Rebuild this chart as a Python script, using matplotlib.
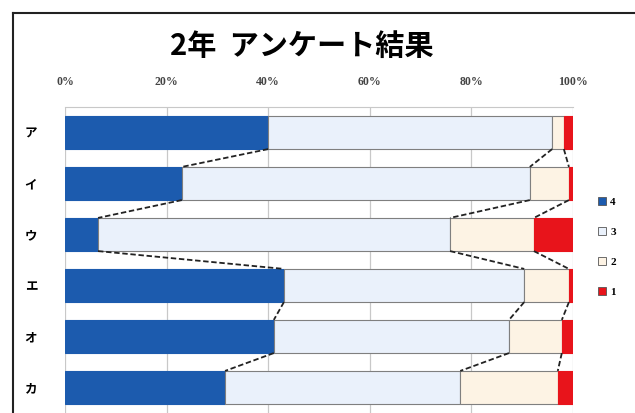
import matplotlib
matplotlib.use("Agg")
import matplotlib.pyplot as plt
import numpy as np
from matplotlib.lines import Line2D
from matplotlib.patches import Patch

plt.rcParams['font.family'] = ['Noto Sans CJK JP', 'DejaVu Sans']

categories = ['ア', 'イ', 'ウ', 'エ', 'オ', 'カ']
series_names = ['4', '3', '2', '1']
s4 = [40.0, 23.0, 6.5, 43.1, 41.1, 31.5]
s3 = [55.9, 68.5, 69.3, 47.3, 46.3, 46.3]
s2 = [2.3, 7.7, 16.5, 8.8, 10.4, 19.2]
s1 = [1.8, 0.8, 7.7, 0.8, 2.2, 3.0]
tick_vals = [0, 20, 40, 60, 80, 100]
tick_labels = ['0%', '20%', '40%', '60%', '80%', '100%']
colors = ['#1C5BAE', '#EAF1FB', '#FDF3E4', '#E8141B']

W, H = 635, 413
fig = plt.figure(figsize=(W / 100, H / 100), dpi=100)
ax = fig.add_axes([65 / W, 0 / H, (573 - 65) / W, (413 - 107) / H])

data = np.array([s4, s3, s2, s1], dtype=float)
data = data / data.sum(axis=0) * 100
y = np.arange(len(categories))
bh = 0.65
left = np.zeros(len(categories))
for i, name in enumerate(series_names):
    ax.barh(y, data[i], left=left, height=bh, color=colors[i],
            edgecolor='#7f7f7f' if i in (1, 2) else colors[i], linewidth=0.8,
            label=name, zorder=3)
    left = left + data[i]

# series lines
cum = np.cumsum(data, axis=0)
for k in range(3):
    for j in range(len(categories) - 1):
        ax.plot([cum[k, j], cum[k, j + 1]], [y[j] + bh / 2, y[j + 1] - bh / 2],
                color='#222222', lw=1.3, ls=(0, (3, 1.5)), zorder=4)

ax.set_xlim(0, 100)
ax.set_ylim(5.5, -0.5)
ax.set_yticks(y)
ax.set_yticklabels(categories, fontsize=9, fontweight='bold')
ax.xaxis.tick_top()
ax.set_xticks(tick_vals)
ax.set_xticklabels(tick_labels, fontsize=8.5, family=['Liberation Serif'],
                   fontweight='bold', color='#444444')
ax.tick_params(axis='x', length=0, pad=14)
ax.tick_params(axis='y', length=0, pad=20)
ax.grid(axis='x', color='#c8c8c8', lw=0.9, zorder=0)
for s in ['left', 'right', 'bottom']:
    ax.spines[s].set_visible(False)
ax.spines['top'].set_color('#c8c8c8')

handles = [Patch(facecolor=colors[i], edgecolor='#555555', linewidth=0.6) for i in range(4)]
fig.legend(handles, series_names, loc='center left', bbox_to_anchor=(588 / W, 1 - 247 / H),
           frameon=False, handlelength=0.7, handleheight=0.7,
           labelspacing=1.8, handletextpad=0.4,
           prop={'family': 'Liberation Serif', 'size': 8, 'weight': 'bold'})

fig.text(302 / W, 1 - 46 / H, '2年  アンケート結果', ha='center', va='center',
         fontsize=21, fontweight='bold')

# chart frame
fig.add_artist(Line2D([13 / W, 13 / W], [0, 1 - 13 / H], color='#222222', lw=1.5, transform=fig.transFigure))
fig.add_artist(Line2D([13 / W, 1], [1 - 13 / H, 1 - 13 / H], color='#222222', lw=1.5, transform=fig.transFigure))

fig.savefig('out.png', dpi=100)
